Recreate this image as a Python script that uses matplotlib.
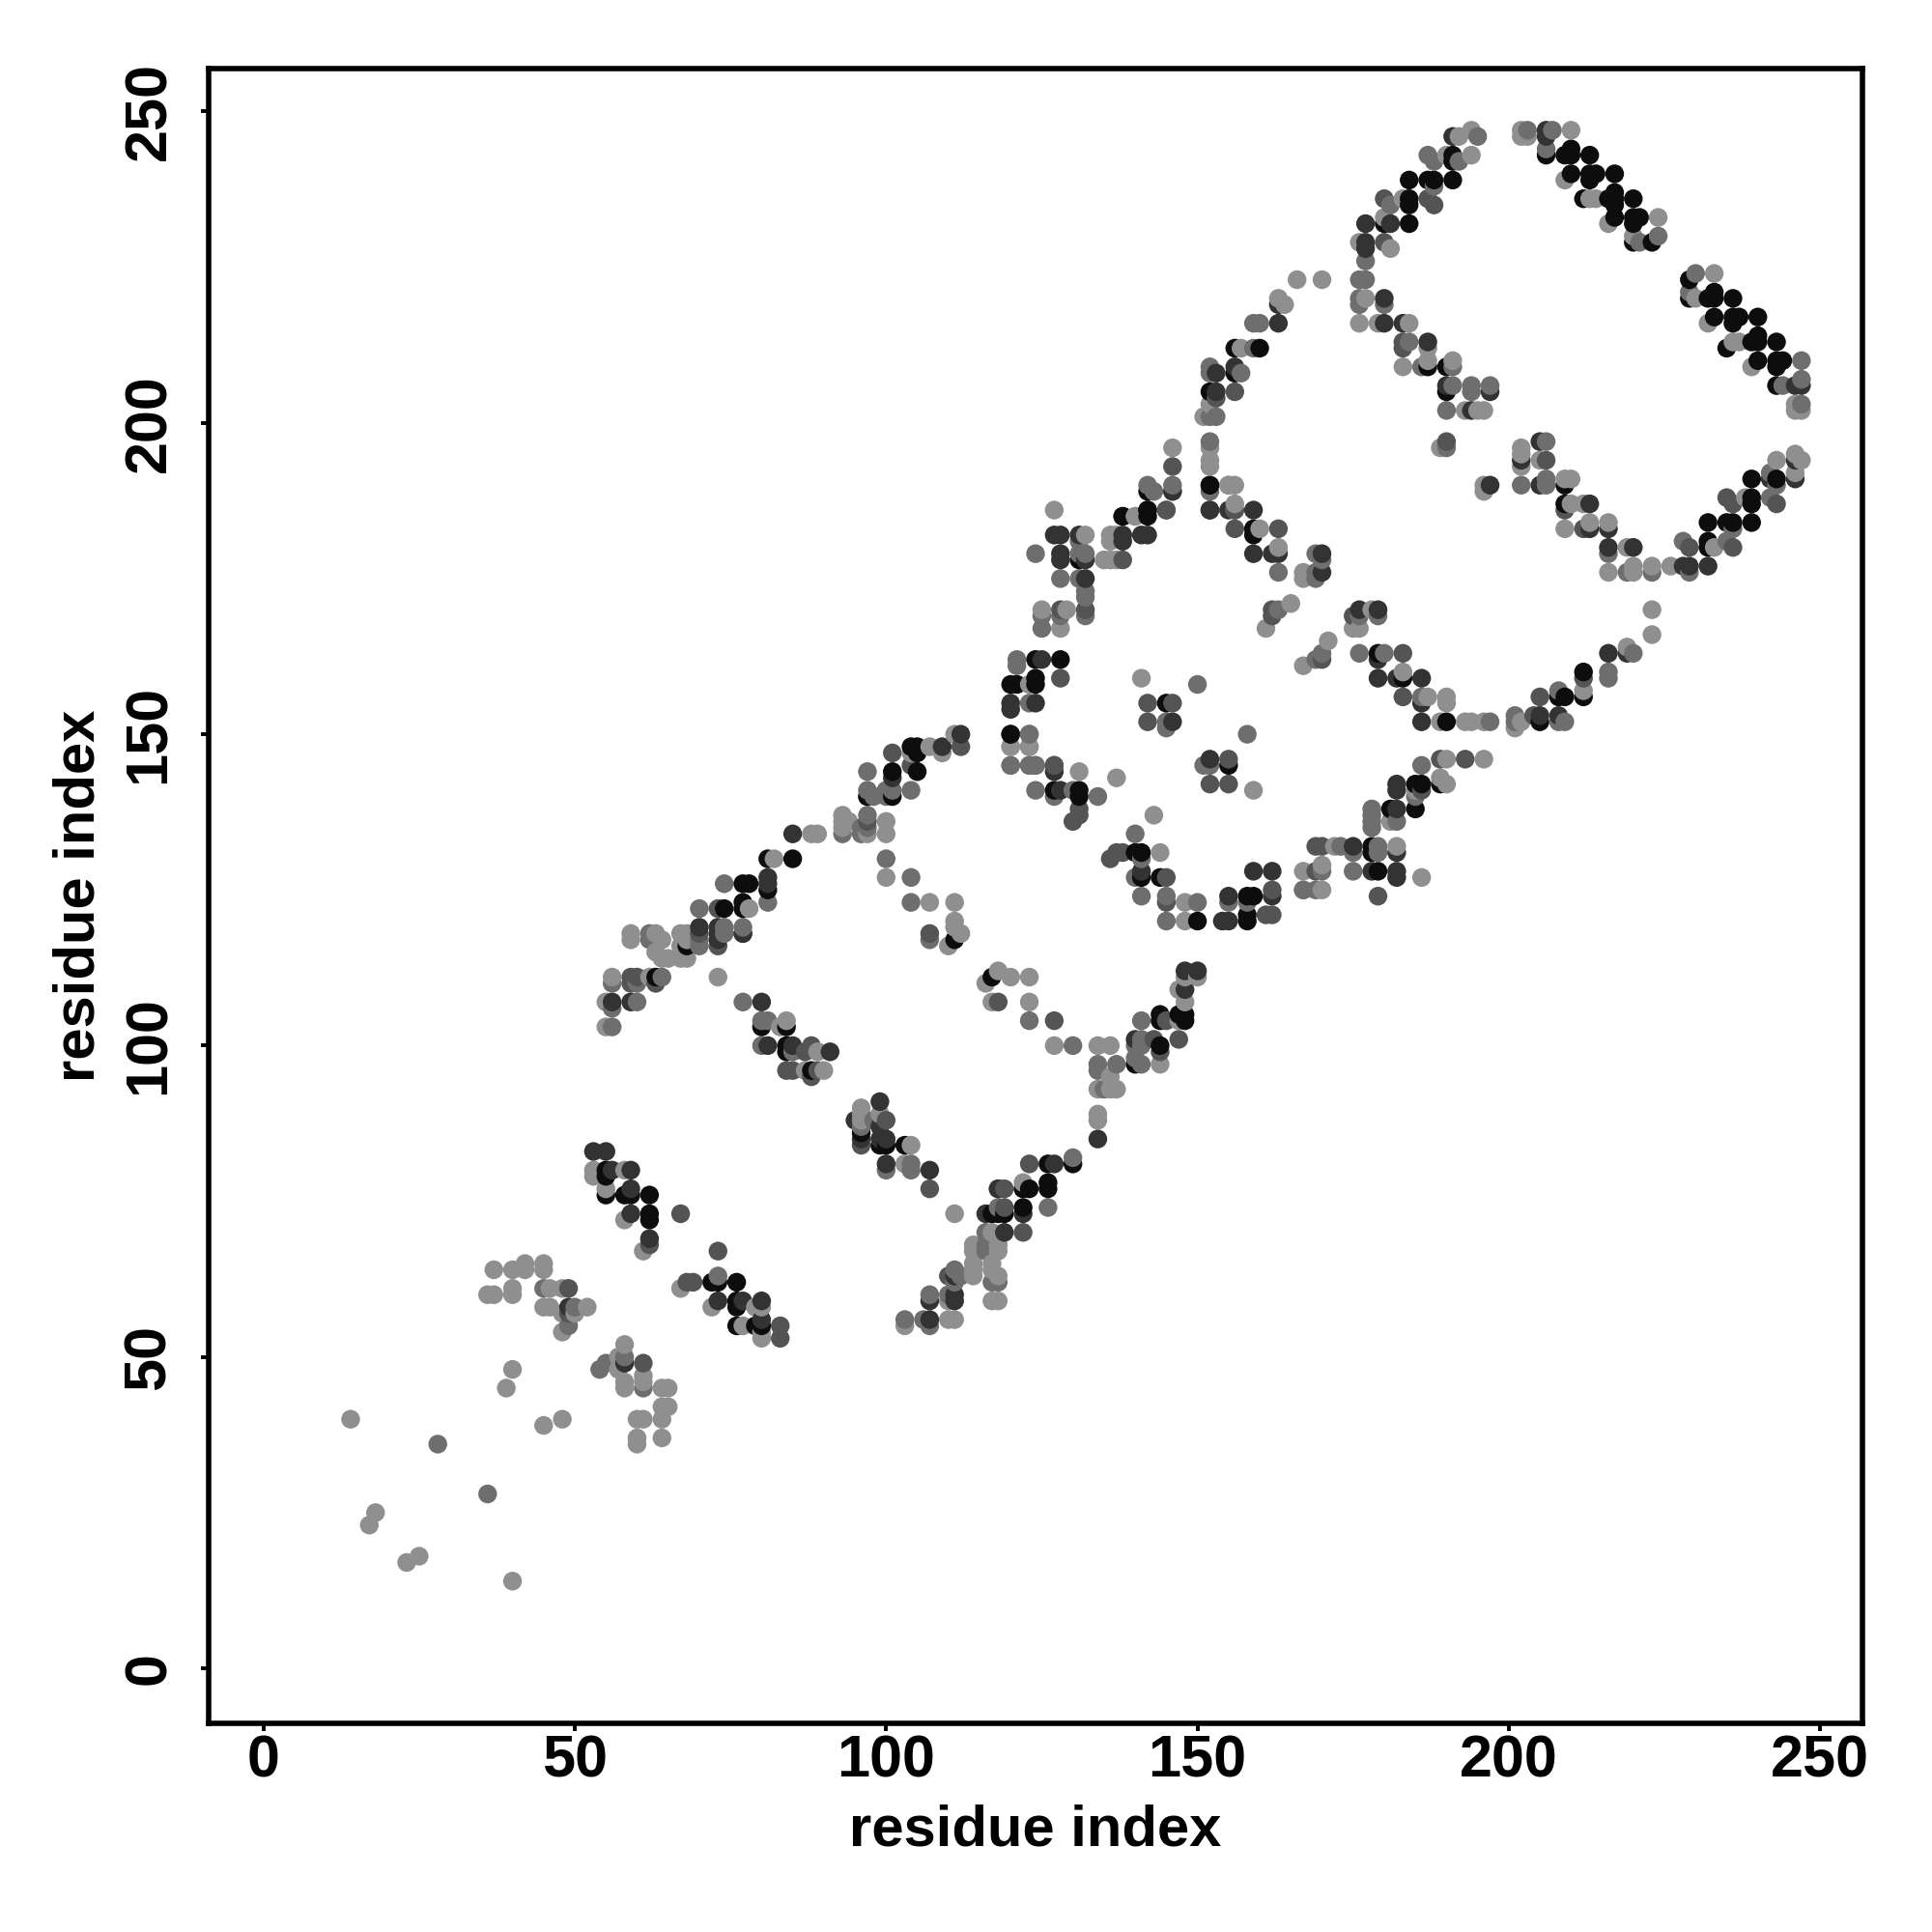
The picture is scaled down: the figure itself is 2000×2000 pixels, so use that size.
import numpy as np
import matplotlib
matplotlib.use("Agg")
import matplotlib.pyplot as plt

plt.rcParams['font.family'] = ['Liberation Sans', 'DejaVu Sans']

# contacts as (i, j), one list per gray shade
light = [(14,40),(17,23),(18,25),(23,17),(25,18),(40,14),(39,45),(40,48),(45,39),(48,40),(37,64),(40,64),(42,65),(42,64),
    (45,65),(45,64),(36,60),(37,60),(40,61),(40,60),(46,61),(48,61),(45,58),(46,58),(48,57),(50,57),(52,58),(48,54),
    (58,52),(57,50),(57,48),(58,46),(58,45),(61,47),(61,46),(64,45),(65,45),(64,42),(65,42),(64,40),(60,40),(61,40),
    (60,37),(60,36),(64,37),(53,80),(53,79),(58,80),(55,77),(58,72),(61,67),(67,61),(72,58),(79,58),(80,58),(77,55),
    (80,54),(80,53),(111,150),(109,147),(107,148),(104,147),(93,137),(93,136),(94,136),(93,135),(97,134),(100,136),
    (100,134),(82,130),(88,134),(89,134),(78,122),(59,118),(59,117),(63,118),(64,117),(67,118),(68,118),(68,117),
    (67,116),(63,115),(64,114),(65,114),(67,114),(68,114),(73,111),(56,111),(62,111),(55,107),(55,103),(83,103),
    (84,104),(89,99),(87,96),(90,96),(96,90),(96,89),(99,89),(96,88),(104,84),(103,81),(120,148),(123,148),(120,145),
    (131,144),(137,143),(100,127),(107,123),(111,123),(111,120),(111,119),(112,118),(110,116),(116,110),(118,112),
    (120,111),(123,111),(117,107),(123,107),(127,100),(134,100),(136,100),(136,95),(134,93),(136,93),(137,93),(134,89),
    (134,88),(122,78),(111,73),(117,70),(114,68),(114,67),(118,68),(118,67),(114,65),(114,64),(114,63),(117,65),(117,64),
    (118,63),(110,59),(117,59),(118,59),(103,55),(110,56),(111,56),(148,111),(150,111),(147,109),(148,107),(147,104),
    (144,97),(127,186),(132,182),(125,170),(129,170),(128,167),(123,158),(120,148),(123,148),(141,159),(159,141),(143,137),
    (144,131),(148,123),(148,120),(167,128),(170,129),(167,125),(170,125),(172,132),(182,132),(186,127),(181,136),(185,141),
    (189,143),(190,142),(190,146),(196,146),(189,152),(193,152),(194,152),(187,156),(190,156),(190,155),(183,160),(171,165),
    (167,161),(178,170),(175,167),(176,167),(165,171),(161,167),(167,176),(167,175),(163,180),(160,183),(156,186),(155,190),
    (156,190),(140,185),(136,182),(137,182),(136,181),(135,178),(136,178),(137,178),(146,189),(194,247),(192,246),(190,243),
    (194,243),(183,236),(180,233),(176,229),(181,228),(177,220),(176,216),(179,216),(184,216),(187,212),(187,210),(183,209),
    (191,210),(193,202),(195,202),(196,202),(189,196),(202,196),(202,195),(202,193),(205,194),(196,190),(196,189),(209,191),
    (210,191),(210,187),(212,187),(209,183),(213,184),(216,184),(219,180),(216,176),(220,177),(220,176),(223,177),(226,177),
    (233,180),(238,188),(246,192),(243,194),(246,195),(247,194),(202,247),(202,246),(203,246),(210,247),(209,239),(213,236),
    (214,236),(216,232),(224,233),(220,230),(233,224),(230,220),(232,216),(236,213),(237,213),(239,209),(246,203),(246,202),
    (247,202),(166,223),(170,223),(163,220),(164,219),(157,212),(152,203),(151,201),(152,196),(152,194),(152,193),(155,190),
    (156,187),(146,196),(140,185),(223,170),(223,166),(219,164),(212,157),(201,151),(202,152),(196,152)]

mid = [(28,36),(36,28),(45,61),(50,58),(49,55),(58,50),(55,49),(54,48),(61,45),(73,63),(97,144),(97,141),(97,140),(100,141),
    (101,141),(100,140),(104,141),(98,140),(93,134),(97,137),(97,135),(96,135),(96,134),(81,123),(74,126),(70,122),(70,117),
    (70,116),(74,119),(74,118),(77,119),(62,118),(62,117),(56,110),(60,110),(64,111),(56,106),(60,107),(56,103),(77,107),
    (80,104),(81,104),(80,100),(85,99),(96,87),(98,88),(100,80),(104,81),(104,80),(123,150),(123,145),(124,145),(124,141),
    (127,140),(130,141),(134,140),(100,130),(104,127),(104,123),(107,117),(123,104),(130,100),(134,97),(134,96),(135,93),
    (137,97),(130,82),(126,74),(118,74),(116,70),(116,68),(116,67),(117,62),(118,62),(111,64),(112,63),(111,62),(107,60),
    (110,60),(103,56),(106,56),(107,55),(141,104),(141,101),(140,100),(141,100),(140,98),(141,97),(124,179),(131,181),(131,179),
    (132,179),(128,175),(131,175),(132,173),(132,172),(132,169),(125,169),(125,167),(128,169),(121,162),(121,161),(123,155),
    (123,150),(120,145),(123,145),(124,145),(150,158),(145,152),(145,151),(158,150),(151,145),(152,145),(140,134),(141,130),
    (140,127),(141,124),(145,124),(150,123),(145,120),(155,123),(158,123),(167,125),(170,128),(169,125),(173,132),(175,131),
    (175,128),(179,132),(179,131),(178,138),(178,136),(178,135),(178,137),(182,136),(185,140),(186,145),(197,152),(186,156),
    (176,163),(180,163),(170,163),(169,162),(176,169),(179,169),(163,170),(169,179),(170,178),(169,176),(169,175),(163,176),
    (195,246),(187,243),(188,242),(192,242),(181,235),(188,238),(177,226),(176,223),(177,223),(176,220),(176,219),(180,219),
    (184,213),(186,209),(191,209),(191,206),(194,206),(194,205),(197,206),(190,202),(190,196),(206,197),(202,190),(206,190),
    (206,191),(216,179),(219,176),(223,176),(229,176),(228,181),(235,181),(236,183),(242,188),(242,192),(243,190),(203,247),
    (206,244),(207,247),(221,229),(224,230),(247,210),(230,224),(229,221),(244,206),(247,207),(247,203),(159,216),(160,216),
    (159,212),(152,209),(152,208),(157,208),(153,201),(152,201),(152,197),(152,189),(146,190),(142,190),(143,189),(145,186),
    (220,163),(216,160),(216,159),(208,157),(201,153),(201,152),(208,152),(209,152)]

middark = [(49,61),(49,57),(61,49),(67,73),(62,68),(73,67),(68,62),(69,62),(83,55),(83,53),(112,148),(101,147),(104,145),(97,136),
    (73,122),(70,118),(73,116),(77,118),(59,111),(60,111),(59,110),(63,110),(88,100),(87,99),(84,96),(85,96),(89,96),(88,95),
    (100,88),(96,84),(107,77),(123,81),(119,77),(127,145),(128,159),(131,138),(131,137),(130,136),(127,104),(107,118),(118,107),
    (119,74),(122,70),(110,63),(145,104),(143,101),(144,99),(147,101),(142,155),(146,155),(142,152),(155,146),(152,142),(155,142),
    (127,145),(128,170),(132,170),(136,130),(137,131),(138,131),(145,127),(145,123),(162,125),(161,121),(162,121),(169,128),
    (169,132),(170,132),(179,124),(186,141),(189,146),(193,146),(183,156),(183,163),(170,162),(175,169),(162,170),(162,169),
    (163,183),(156,183),(152,186),(145,186),(138,178),(180,236),(187,236),(188,235),(180,229),(183,213),(183,212),(190,197),
    (206,194),(209,186),(229,180),(236,180),(235,188),(236,187),(243,187),(212,183),(156,205),(153,204),(156,186),(146,193),
    (212,159),(205,156),(204,153)]

dark = [(49,58),(58,49),(59,80),(56,80),(59,77),(59,73),(62,69),(73,59),(77,59),(80,59),(80,56),(53,83),(55,83),(109,148),
    (112,150),(101,143),(85,134),(81,127),(81,126),(70,119),(73,119),(73,118),(73,117),(77,118),(56,107),(59,107),(80,107),
    (81,100),(85,100),(91,99),(99,91),(95,88),(99,87),(99,85),(100,85),(96,85),(100,81),(107,80),(118,77),(127,81),(134,85),
    (127,144),(128,141),(118,77),(116,73),(122,73),(119,70),(107,59),(111,63),(111,60),(111,59),(107,56),(148,112),(150,112),
    (148,109),(140,101),(127,182),(128,182),(131,182),(128,179),(128,178),(132,178),(132,175),(125,162),(120,155),(120,154),
    (124,155),(120,150),(152,146),(146,152),(141,128),(162,128),(162,124),(154,120),(155,120),(155,124),(159,128),(175,132),
    (178,128),(182,128),(182,127),(182,131),(182,138),(182,142),(182,141),(186,152),(186,155),(179,159),(182,159),(186,159),
    (179,162),(179,170),(176,170),(170,179),(170,176),(163,179),(162,179),(159,179),(155,186),(159,186),(141,182),(142,182),
    (138,182),(138,181),(191,246),(181,232),(177,232),(177,229),(177,228),(180,220),(180,216),(183,216),(187,213),(190,206),
    (197,205),(194,202),(202,194),(205,197),(197,190),(205,190),(213,187),(213,183),(216,183),(216,180),(220,180),(228,177),
    (229,177),(232,177),(242,191),(246,191),(246,194),(206,247),(206,246),(246,206),(247,206),(163,219),(163,216),(153,208),
    (156,209),(153,205),(152,190),(146,189),(152,186),(138,185),(216,163),(219,163),(205,153),(208,153)]

black = [(55,80),(55,79),(55,76),(58,76),(59,76),(62,76),(62,73),(62,72),(72,62),(73,62),(76,62),(76,59),(76,58),(76,55),
    (79,55),(80,55),(105,148),(104,148),(105,147),(101,144),(105,144),(97,140),(101,140),(81,130),(85,130),(77,126),(78,126),
    (81,125),(74,122),(77,123),(77,122),(68,116),(63,111),(84,103),(80,103),(84,100),(84,99),(88,96),(96,86),(100,84),(99,84),
    (103,84),(120,150),(127,141),(131,141),(131,140),(111,117),(117,111),(126,81),(130,81),(122,77),(123,77),(126,78),(126,77),
    (122,74),(117,73),(118,73),(119,73),(148,105),(147,105),(148,104),(144,105),(144,104),(144,100),(140,97),(131,178),(124,162),
    (128,162),(120,158),(121,158),(124,159),(124,158),(145,155),(155,145),(140,131),(141,131),(141,127),(144,127),(150,120),
    (158,124),(159,124),(158,121),(158,120),(178,132),(178,131),(179,128),(181,138),(185,138),(185,142),(186,142),(189,142),
    (190,152),(183,159),(179,163),(159,183),(159,182),(152,190),(138,185),(142,186),(142,185),(142,189),(191,243),(191,242),
    (184,239),(187,239),(188,239),(191,239),(184,236),(184,235),(180,232),(184,232),(187,209),(190,209),(190,205),(209,190),
    (209,187),(232,181),(232,180),(232,184),(235,184),(236,184),(239,184),(239,188),(239,187),(239,191),(243,191),(206,243),
    (209,243),(210,244),(210,243),(213,243),(210,240),(213,240),(213,239),(214,240),(217,240),(212,236),(216,236),(217,237),
    (217,236),(217,235),(220,236),(217,233),(220,233),(220,232),(221,233),(220,229),(223,229),(229,223),(229,220),(232,220),
    (233,221),(233,220),(236,220),(233,217),(236,217),(236,216),(237,217),(240,217),(235,212),(239,213),(240,214),(240,213),
    (243,213),(240,210),(243,210),(243,209),(244,210),(243,206),(156,212),(160,212),(152,205),(156,208),(142,186),
    (212,160),(212,156),(208,156),(209,156),(205,152)]

groups = [(light, 0.56), (mid, 0.43), (middark, 0.33), (dark, 0.2), (black, 0.05)]
ticks = [0, 50, 100, 150, 200, 250]

xs, ys, cs = [], [], []
for pts, g in groups:
    for i, j in pts:
        xs.append(i)
        ys.append(j)
        cs.append((g, g, g))
xs = np.array(xs)
ys = np.array(ys)
cs = np.array(cs)
# later residues sit on top of earlier ones
order = np.lexsort((ys, xs))

fig = plt.figure(figsize=(20, 20), dpi=100)
ax = fig.add_axes([216/2000, 216/2000, 1712/2000, 1713/2000])
ax.scatter(xs[order], ys[order], c=cs[order], s=195, linewidths=0)

ax.set_xlim(-8.8, 256.8)
ax.set_ylim(-8.84, 256.9)
ax.set_xticks(ticks)
ax.set_yticks(ticks)
for s in ax.spines.values():
    s.set_linewidth(4)
ax.tick_params(axis='both', length=6, width=2.8, labelsize=44, pad=2.5)
ax.tick_params(axis='y', pad=17)
for t in ax.get_xticklabels():
    t.set_fontweight('bold')
for t in ax.get_yticklabels():
    t.set_fontweight('bold')
    t.set_rotation(90)
    t.set_va('center')
ax.set_xlabel('residue index', fontsize=43, fontweight='bold')
ax.set_ylabel('residue index', fontsize=43, fontweight='bold')
ax.xaxis.set_label_coords(0.5, -0.0486)
ax.yaxis.set_label_coords(-0.062, 0.5)

fig.savefig('out.png', dpi=100)
